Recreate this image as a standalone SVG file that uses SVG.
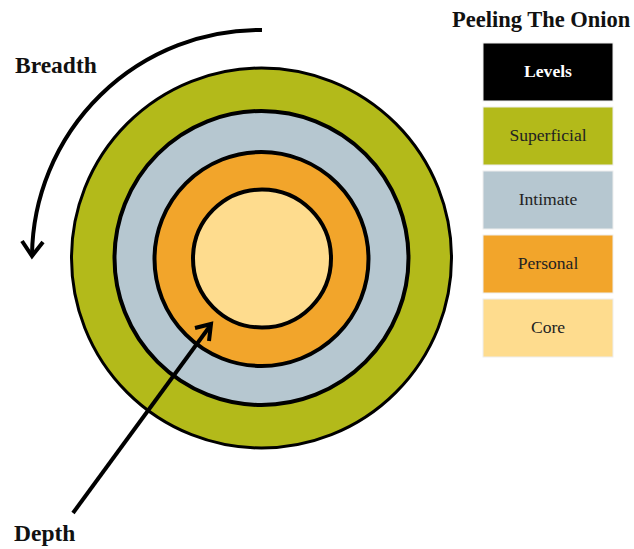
<svg xmlns="http://www.w3.org/2000/svg" width="634" height="549" viewBox="0 0 634 549">
<defs>
<style>
.ring{stroke:#000;stroke-width:4}
.lbl{font-family:"Liberation Serif","Times New Roman",serif;font-weight:bold;fill:#111}
.box{stroke:#eeeeee;stroke-width:1}
.bt{font-family:"Liberation Serif","Times New Roman",serif;font-size:17.6px;fill:#222;text-anchor:middle}
.arr{fill:none;stroke:#000;stroke-width:4;stroke-linecap:butt;stroke-linejoin:miter}
</style>
</defs>
<rect width="634" height="549" fill="#fff"/>
<g id="onion">
<g id="ring-superficial"><circle cx="261.5" cy="258" r="190" fill="#B3BA1A" stroke="#000" stroke-width="3"/></g>
<g id="ring-intimate"><circle class="ring" cx="261.5" cy="258" r="147" fill="#B6C7D0"/></g>
<g id="ring-personal"><circle class="ring" cx="261.5" cy="259" r="107" fill="#F2A52B"/></g>
<g id="ring-core"><circle class="ring" cx="262" cy="258.5" r="69" fill="#FEDC8E"/></g>
</g>
<g id="connectors">
<path class="arr" d="M262,30 A228,228 0 0 0 32,255"/>
<path class="arr" d="M22,241 L32,256 L43,242"/>
<path class="arr" d="M73,513 L210,326"/>
<path class="arr" d="M195,328 L211,324 L209,341"/>
</g>
<g id="label-breadth"><text class="lbl" x="15" y="73" font-size="23.5">Breadth</text></g>
<g id="label-depth"><text class="lbl" x="14" y="541" font-size="23.5">Depth</text></g>
<g id="title"><text class="lbl" x="452" y="27" font-size="22.5">Peeling The Onion</text></g>
<g id="legend-levels"><rect class="box" x="483" y="43" width="130" height="58" fill="#000"/><text class="bt" x="548" y="77" font-weight="bold" style="fill:#fff">Levels</text></g>
<g id="legend-superficial"><rect class="box" x="483" y="107" width="130" height="58" fill="#B3BA1A"/><text class="bt" x="548" y="141">Superficial</text></g>
<g id="legend-intimate"><rect class="box" x="483" y="171" width="130" height="58" fill="#B6C7D0"/><text class="bt" x="548" y="205">Intimate</text></g>
<g id="legend-personal"><rect class="box" x="483" y="235" width="130" height="58" fill="#F2A52B"/><text class="bt" x="548" y="269">Personal</text></g>
<g id="legend-core"><rect class="box" x="483" y="299" width="130" height="58" fill="#FEDC8E"/><text class="bt" x="548" y="333">Core</text></g>
</svg>
